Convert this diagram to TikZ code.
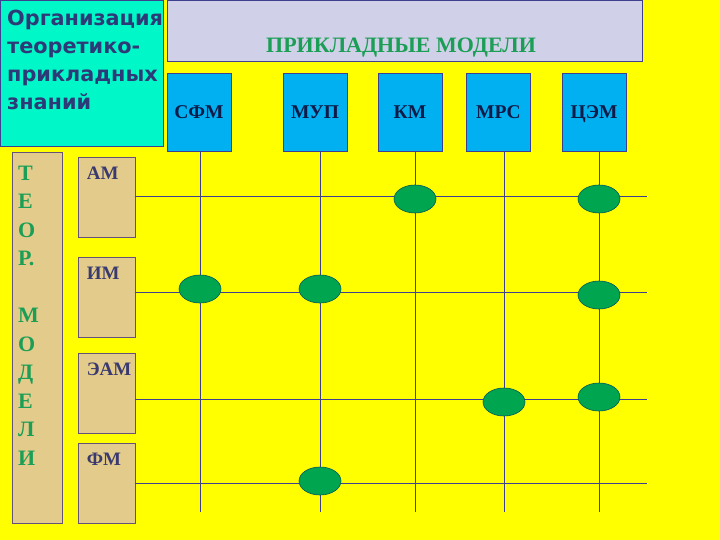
\documentclass[tikz,border=0pt]{standalone}
\usepackage{fontspec}
\setmainfont{Liberation Serif}
\newfontfamily\orgfont{DejaVu Sans}
\usetikzlibrary{shapes.geometric}
\usetikzlibrary{positioning}
\definecolor{bgyellow}{HTML}{FFFF00}
\definecolor{orgcyan}{HTML}{00F7C8}
\definecolor{orgtext}{HTML}{2E3A78}
\definecolor{lavender}{HTML}{D0D0E8}
\definecolor{skyblue}{HTML}{00B0F0}
\definecolor{navytext}{HTML}{0E1A48}
\definecolor{tanbox}{HTML}{E3CB8B}
\definecolor{tantext}{HTML}{3A3A70}
\definecolor{greentext}{HTML}{1B9E55}
\definecolor{nodegreen}{HTML}{00A550}
\definecolor{linec}{HTML}{3F3F8F}
\tikzstyle{gridline}=[draw=linec, line width=0.8pt]
\tikzstyle{model}=[draw=linec, line width=0.8pt, fill=skyblue, minimum width=64pt, minimum height=78pt, inner sep=0pt, text height=13pt, text depth=0pt, text=navytext, font=\bfseries\fontsize{19.5}{19.5}\selectfont]
\tikzstyle{theory}=[draw=linec!70!brown, line width=0.8pt, fill=tanbox, minimum width=57pt, minimum height=80pt, inner sep=0pt]
\tikzstyle{theorylabel}=[inner sep=0pt, text=tantext, font=\bfseries\fontsize{19}{19}\selectfont]
\tikzstyle{link}=[ellipse, draw=teal!70!black, line width=0.6pt, fill=nodegreen, minimum width=42pt, minimum height=28pt, inner sep=0pt]

\begin{document}
\begin{tikzpicture}[x=1pt, y=-1pt]
  \fill[bgyellow] (0,0) rectangle (720,540);
  \useasboundingbox (0,0) rectangle (720,540);

  % header boxes
  \node[draw=linec, line width=0.8pt, fill=orgcyan, minimum width=163pt, minimum height=146pt, inner sep=0pt] (org) at (81.5,73) {};
  \node[anchor=north west, inner sep=0pt, align=left, text=orgtext, font=\orgfont\bfseries\fontsize{20.8}{28}\selectfont] (orgtitle) at (7,9.5)
    {Организация\\теоретико-\\прикладных\\знаний};
  \node[draw=linec, line width=0.8pt, fill=lavender, minimum width=475pt, minimum height=61pt, inner sep=0pt] (applied) at (404.5,30.5) {};
  \node[inner sep=0pt, text=greentext, font=\bfseries\fontsize{22}{22}\selectfont] (appliedtitle) at (401,48) {ПРИКЛАДНЫЕ МОДЕЛИ};

  % applied models
  \node[model] (sfm) at (199,112) {СФМ};
  \node[model] (mup) at (315,112) {МУП};
  \node[model] (km) at (410,112) {КМ};
  \node[model] (mrs) at (498.5,112) {МРС};
  \node[model] (cem) at (594,112) {ЦЭМ};

  % theoretical models
  \node[theory, minimum width=50pt, minimum height=371pt] (teor) at (37,337.5) {};
  \node[anchor=north west, inner sep=0pt, align=left, text=greentext, font=\bfseries\fontsize{22}{28.5}\selectfont] (teortitle) at (18,165.5)
    {Т\\Е\\О\\Р.\\~\\М\\О\\Д\\Е\\Л\\И};
  \node[theory] (am) at (106.5,197) {};
  \node[theory] (im) at (106.5,297.5) {};
  \node[theory] (eam) at (106.5,393.5) {};
  \node[theory] (fm) at (106.5,483.5) {};
  \node[theorylabel, below right=10pt and 9pt of am.north west] {АМ};
  \node[theorylabel, below right=10pt and 9pt of im.north west] {ИМ};
  \node[theorylabel, below right=10pt and 9pt of eam.north west] {ЭАМ};
  \node[theorylabel, below right=10pt and 9pt of fm.north west] {ФМ};

  % grid
  \coordinate (sfm-end) at (200,512);
  \coordinate (mup-end) at (320,512);
  \coordinate (km-end) at (415,512);
  \coordinate (mrs-end) at (504,512);
  \coordinate (cem-end) at (599,512);
  \coordinate (am-end) at (647,196);
  \coordinate (im-end) at (647,292);
  \coordinate (eam-end) at (647,399);
  \coordinate (fm-end) at (647,483);
  \foreach \m in {sfm, mup, km, mrs, cem}
    \draw[gridline] (\m-end |- \m.south) -- (\m-end);
  \foreach \t in {am, im, eam, fm}
    \draw[gridline] (\t.east |- \t-end) -- (\t-end);

  % links
  \node[link] (km-am) at (415,199) {};
  \node[link] (cem-am) at (599,199) {};
  \node[link] (sfm-im) at (200,289) {};
  \node[link] (mup-im) at (320,289) {};
  \node[link] (cem-im) at (599,295) {};
  \node[link] (mrs-eam) at (504,402) {};
  \node[link] (cem-eam) at (599,397) {};
  \node[link] (mup-fm) at (320,481) {};
\end{tikzpicture}
\end{document}
